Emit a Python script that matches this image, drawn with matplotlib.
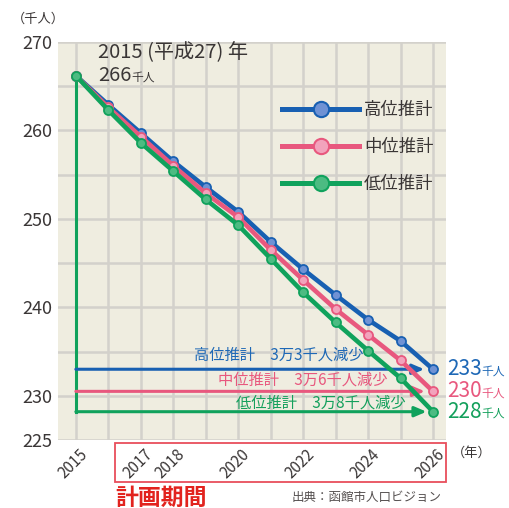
import matplotlib
matplotlib.use("Agg")
import matplotlib.pyplot as plt
import matplotlib.transforms as mtransforms
from matplotlib.lines import Line2D
from matplotlib.patches import Rectangle

plt.rcParams['font.family'] = ['Noto Sans CJK JP', 'DejaVu Sans']

# Data (千人)
years = [2015, 2016, 2017, 2018, 2019, 2020, 2021, 2022, 2023, 2024, 2025, 2026]
high = [266.2, 262.9, 259.7, 256.5, 253.6, 250.8, 247.4, 244.3, 241.4, 238.6, 236.2, 233.0]
mid = [266.2, 262.6, 259.3, 256.0, 252.9, 250.2, 246.5, 243.1, 239.8, 236.9, 234.0, 230.5]
low = [266.2, 262.3, 258.6, 255.4, 252.2, 249.3, 245.5, 241.7, 238.3, 235.1, 232.0, 228.2]
series_names = ['高位推計', '中位推計', '低位推計']
decrease_labels = ['高位推計　3万3千人減少', '中位推計　3万6千人減少', '低位推計　3万8千人減少']
end_labels = ['233', '230', '228']
xtick_labels = ['2015', '', '2017', '2018', '', '2020', '', '2022', '', '2024', '', '2026']
ytick_values = [225, 230, 235, 240, 245, 250, 255, 260, 265, 270]
ytick_labels = ['225', '230', '', '240', '', '250', '', '260', '', '270']

colors = ['#1860B2', '#E8587E', '#10A25C']
face_colors = ['#6F92D4', '#F2A3BC', '#4CBB82']
text_colors = ['#1E68B6', '#E8587E', '#14A05C']
dark = '#3A3636'

fig = plt.figure(figsize=(5.09, 5.08), dpi=100)
ax = fig.add_axes([58 / 509, 1 - 440 / 508, 388 / 509, 398 / 508])
ax.set_facecolor('#EFEDE0')
ax.set_xlim(2014.45, 2026.4)
ax.set_ylim(225, 270)
for s in ax.spines.values():
    s.set_visible(False)

ax.set_xticks(years)
ax.set_xticklabels(xtick_labels, rotation=45, ha='right', fontsize=11, color=dark)
ax.set_yticks(ytick_values)
ax.set_yticklabels(ytick_labels, fontsize=13, color=dark)
ax.tick_params(length=0, pad=4)
offset = mtransforms.ScaledTranslation(15 / 100, 0, fig.dpi_scale_trans)
for lab in ax.get_xticklabels():
    lab.set_transform(lab.get_transform() + offset)
ax.grid(True, color='#D3D1CB', lw=1.8)
ax.set_axisbelow(True)

# green vertical line from 2015 down to low end
ax.plot([years[0], years[0]], [low[0], low[-1]], color=colors[2], lw=2.2, zorder=3)

# horizontal arrows
ends = [high[-1], mid[-1], low[-1]]
arrow_x = [2025.73, 2025.75, 2025.8]
for val, c, ax_end in zip(ends, colors, arrow_x):
    ax.annotate('', xy=(ax_end, val), xytext=(years[0], val),
                arrowprops=dict(arrowstyle='-|>,head_length=0.7,head_width=0.3',
                                color=c, lw=2.2, shrinkA=0, shrinkB=0), zorder=3)

# series lines
for vals, c, fc in zip([high, mid, low], colors, face_colors):
    ax.plot(years, vals, color=c, lw=3.3, marker='o', markersize=6.5,
            markerfacecolor=fc, markeredgecolor=c, markeredgewidth=1.3, zorder=4)

# decrease labels
text_pos = [(2023.85, 234.6), (2024.6, 231.8), (2025.15, 229.2)]
for (tx, ty), lab, c in zip(text_pos, decrease_labels, text_colors):
    ax.text(tx, ty, lab, ha='right', va='center', fontsize=11, color=c, zorder=5)

# end labels
for val, lab, c in zip(ends, end_labels, text_colors):
    t = ax.text(2026.43, val, lab, ha='left', va='center', fontsize=15, color=c, clip_on=False)
    ax.annotate('千人', xy=(1, 0.12), xycoords=t, ha='left', va='bottom', fontsize=8.5, color=c)

# start annotation
ax.text(2015.68, 268.8, '2015 (平成27) 年', ha='left', va='center', fontsize=14.5, color=dark)
t = ax.text(2015.68, 266.2, '266', ha='left', va='center', fontsize=14.5, color=dark)
ax.annotate('千人', xy=(1, 0.12), xycoords=t, ha='left', va='bottom', fontsize=8.5, color=dark)

# legend
handles = [Line2D([0], [0], color=c, lw=3.6, marker='o', markersize=11,
                  markerfacecolor=fc, markeredgecolor=c, markeredgewidth=1.5)
           for c, fc in zip(colors, face_colors)]
leg = ax.legend(handles, series_names, loc='upper left', bbox_to_anchor=(0.556, 0.874),
                frameon=False, fontsize=12.5, handlelength=4.4, handletextpad=0.3,
                labelspacing=1.1, borderpad=0, numpoints=1)
for txt in leg.get_texts():
    txt.set_color(dark)

# other labels
fig.text(38 / 509, 1 - 19 / 508, '（千人）', ha='center', va='center', fontsize=9.5, color=dark)
fig.text(472 / 509, 1 - 453 / 508, '（年）', ha='center', va='center', fontsize=9.5, color=dark)
fig.patches.append(Rectangle((115 / 509, 1 - 482 / 508), 331 / 509, 39 / 508,
                             transform=fig.transFigure, fill=False, ec='#E84E5C', lw=1.3))
fig.text(115 / 509, 1 - 498 / 508, '計画期間', ha='left', va='center', fontsize=16.5,
         fontweight='bold', color='#E2231E')
fig.text(442 / 509, 1 - 497 / 508, '出典：函館市人口ビジョン', ha='right', va='center',
         fontsize=9, color='#555050')

fig.savefig('out.png', dpi=100)
